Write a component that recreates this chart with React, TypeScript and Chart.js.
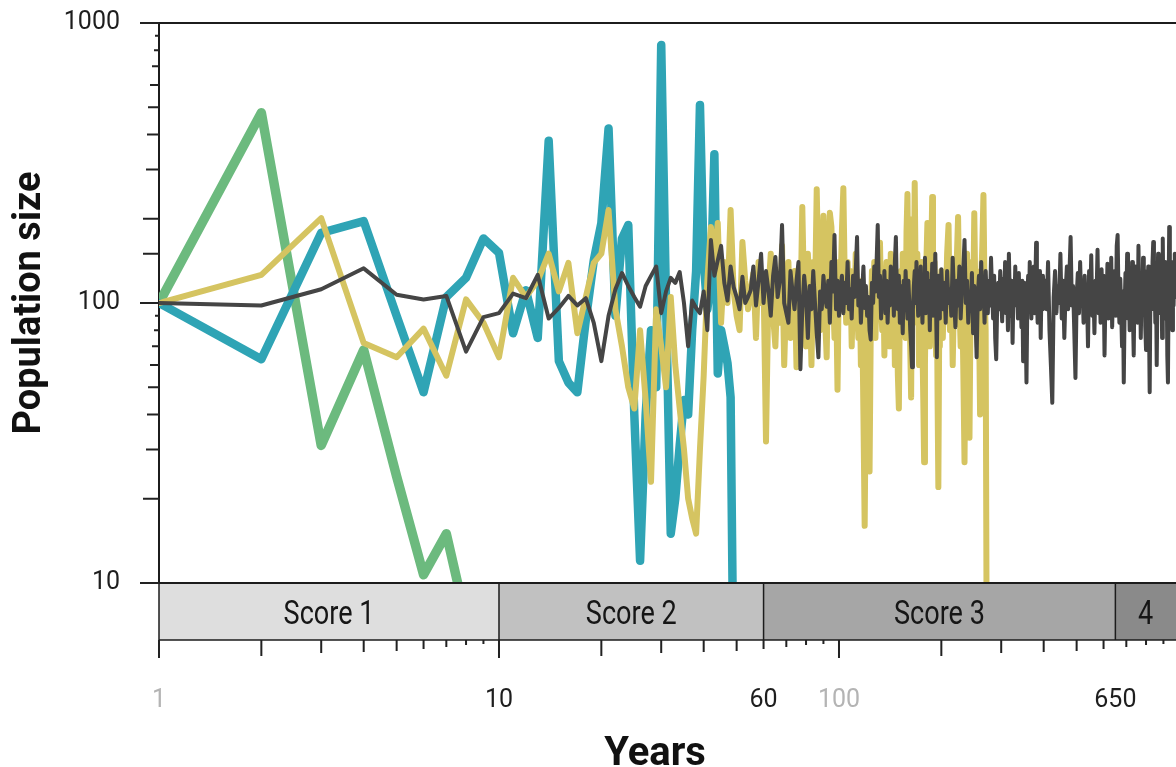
import React, { useEffect, useRef } from 'react';
import { Chart, registerables } from 'chart.js';

Chart.register(...registerables);

const seq = (start: number, end: number, step: number): number[] => {
  const out: number[] = [];
  for (let v = start; v <= end; v += step) out.push(v);
  return out;
};

// ---------- data (years, population size) ----------
const greenYears = seq(1, 8, 1);
const greenValues = [100, 478, 31, 68, 24, 10.7, 15, 7.4];

const blueYears = seq(1, 49, 1);
const blueValues = [
  100, 63, 178, 196, 90, 48, 105, 123, 170, 151,
  78, 111, 75, 380, 62, 52, 48, 87, 142, 193,
  420, 90, 170, 190, 40, 12, 40, 80, 50, 835,
  100, 15, 20, 31, 45, 40, 80, 130, 510, 140,
  95, 120, 340, 56, 80, 70, 61, 46, 4,
];

// yellow: yearly to 200, then every 2 years
const yellowEarly = [
  100, 126, 201, 72, 64, 81, 55, 103, 85, 64,
  123, 105, 120, 150, 110, 139, 78, 105, 139, 150,
  215, 95, 70, 50, 42, 80, 45, 23, 95, 70,
  50, 105, 60, 42, 30, 20, 17, 15, 30, 55,
  120, 187, 140, 193, 85, 140, 100, 215, 110, 90,
  80, 165, 120, 95, 110, 128, 75, 140, 100, 120,
  32, 110, 150, 90, 70, 120, 85, 160, 60, 110,
  140, 75, 100, 130, 59, 120, 90, 220, 100, 70,
  150, 110, 60, 140, 100, 255, 120, 80, 130, 205,
  90, 64, 150, 210, 187, 110, 75, 120, 49, 140,
];
const yellowMid = [
  110, 180, 257, 120, 85, 140, 95, 130, 70, 115,
  90, 150, 100, 75, 120, 60, 95, 40, 16, 55,
  100, 70, 25, 80, 130, 95, 140, 75, 110, 90,
  130, 164, 100, 80, 125, 65, 105, 140, 90, 120,
  70, 150, 100, 85, 130, 60, 110, 90, 55, 42,
  95, 130, 80, 150, 100, 120, 75, 180, 245, 110,
  140, 70, 46, 150, 200, 110, 268, 130, 85, 150,
  100, 60, 120, 90, 140, 70, 45, 27, 60, 110,
  150, 193, 95, 130, 70, 120, 160, 239, 110, 85,
  140, 100, 65, 120, 45, 22, 70, 110, 90, 130,
];
const yellowLate = [
  75, 120, 95, 150, 190, 80, 130, 60, 110, 90,
  140, 203, 100, 70, 125, 60, 27, 100, 150, 80,
  33, 110, 140, 90, 209, 100, 130, 70, 95, 40,
  120, 160, 243, 110, 80, 5,
];
const yellowYears = [...seq(1, 100, 1), ...seq(101, 200, 1), ...seq(202, 272, 2)];
const yellowValues = [...yellowEarly, ...yellowMid, ...yellowLate];

// black: yearly to 200, then every 2 years to 400, then every 4 years
const blackEarly = [
  100, 98, 112, 133, 107, 103, 106, 67, 89, 92,
  108, 104, 126, 88, 96, 106, 98, 104, 85, 62,
  90, 112, 128, 115, 105, 97, 115, 125, 135, 92,
  110, 123, 118, 129, 100, 70, 102, 96, 92, 110,
  80, 168, 125, 142, 160, 118, 102, 135, 114, 105,
  95, 124, 100, 105, 111, 135, 98, 120, 150, 100,
  130, 111, 90, 125, 146, 105, 120, 190, 100, 92,
  85, 130, 110, 95, 120, 140, 58, 95, 125, 105,
  75, 115, 95, 130, 100, 78, 64, 110, 95, 125,
  105, 97, 120, 85, 140, 110, 175, 95, 120, 90,
];
const blackMid = [
  110, 125, 92, 118, 100, 140, 95, 112, 88, 125,
  105, 130, 172, 98, 120, 85, 110, 135, 96, 115,
  90, 105, 80, 74, 118, 100, 135, 110, 140, 190,
  105, 125, 88, 115, 100, 130, 92, 120, 85, 110,
  98, 135, 105, 120, 90, 140, 172, 110, 95, 125,
  85, 115, 100, 78, 120, 95, 130, 105, 88, 120,
  100, 80, 70, 59, 95, 115, 130, 100, 140, 110,
  90, 120, 98, 135, 105, 85, 118, 100, 145, 92,
  112, 128, 95, 110, 80, 120, 100, 138, 90, 115,
  105, 150, 95, 64, 110, 125, 88, 120, 100, 132,
];
const blackLate = [
  95, 118, 85, 130, 100, 112, 90, 145, 105, 82,
  120, 98, 135, 88, 115, 130, 168, 100, 120, 85,
  110, 95, 128, 78, 115, 90, 64, 105, 125, 95,
  140, 100, 118, 85, 130, 105, 92, 120, 98, 145,
  110, 88, 125, 75, 63, 100, 118, 95, 130, 105,
  86, 122, 100, 140, 92, 115, 80, 150, 105, 90,
  120, 72, 110, 98, 135, 100, 118, 88, 128, 95,
  112, 82, 120, 62, 105, 118, 85, 52, 100, 125,
  95, 140, 108, 88, 122, 100, 135, 92, 118, 164,
  105, 85, 120, 98, 130, 75, 110, 95, 125, 100,
];
const blackTail = [
  120, 95, 140, 80, 60, 44, 105, 130, 92, 115,
  100, 150, 88, 120, 75, 110, 135, 95, 125, 172,
  98, 115, 80, 54, 105, 128, 92, 140, 100, 118,
  85, 125, 95, 110, 70, 130, 100, 148, 90, 115,
  78, 120, 105, 155, 92, 118, 85, 132, 100, 125,
  65, 110, 95, 138, 88, 120, 100, 145, 82, 115,
  98, 130, 90, 160, 175, 105, 85, 122, 95, 70,
  110, 52, 95, 128, 100, 150, 88, 118, 80, 125,
  100, 140, 92, 65, 115, 135, 98, 120, 85, 160,
  105, 125, 75, 110, 95, 145, 100, 130, 82, 68,
  115, 98, 135, 88, 48, 110, 125, 95, 140, 165,
  100, 120, 85, 118, 60, 105, 150, 92, 128, 100,
  112, 135, 75, 170, 98, 120, 88, 140, 105, 125,
  65, 52, 110, 187, 100, 130, 92, 118, 80, 140,
  98, 125, 150, 105, 110, 115,
];
const blackYears = [...seq(1, 100, 1), ...seq(101, 200, 1), ...seq(202, 400, 2), ...seq(404, 984, 4)];
const blackValues = [...blackEarly, ...blackMid, ...blackLate, ...blackTail];

// ---------- axes / annotations ----------
const scoreLabels = ['Score 1', 'Score 2', 'Score 3', '4'];
const scoreEdges = [1, 10, 60, 650, 1000];
const bandColors = ['#dedede', '#c1c1c1', '#a6a6a6', '#8a8a8a'];

const xLabelValues = [1, 10, 60, 100, 650];
const xLabelTexts = ['1', '10', '60', '100', '650'];
const xLabelMuted = [true, false, false, true, false];

const yLabelValues = [10, 100, 1000];

const MINOR_LEN: Record<number, number> = { 2: 16, 3: 13, 4: 12, 5: 11, 6: 9, 7: 7, 8: 5, 9: 4 };

const toPoints = (xs: number[], ys: number[]) => xs.map((x, i) => ({ x, y: ys[i] }));

const decorPlugin = {
  id: 'decor',
  afterDatasetsDraw(chart: any) {
    const { ctx, chartArea, scales } = chart;
    const xs = scales.x;
    const ys = scales.y;
    const L = chartArea.left;
    const R = chartArea.right;
    const T = chartArea.top;
    const B = chartArea.bottom;
    const bandTop = B;
    const bandBottom = B + 57;
    ctx.save();

    // score bands
    for (let i = 0; i < scoreLabels.length; i++) {
      const x0 = xs.getPixelForValue(scoreEdges[i]);
      const x1 = Math.min(xs.getPixelForValue(scoreEdges[i + 1]), R);
      ctx.fillStyle = bandColors[i];
      ctx.fillRect(x0, bandTop, x1 - x0, bandBottom - bandTop);
      ctx.save();
      ctx.translate((x0 + x1) / 2, bandTop + 41);
      ctx.scale(0.82, 1);
      ctx.font = '33px Roboto';
      ctx.fillStyle = '#161616';
      ctx.textAlign = 'center';
      ctx.textBaseline = 'alphabetic';
      ctx.fillText(scoreLabels[i], 0, 0);
      ctx.restore();
    }

    // frame lines
    ctx.strokeStyle = '#1c1c1c';
    ctx.lineWidth = 2;
    ctx.beginPath();
    ctx.moveTo(L, T);
    ctx.lineTo(R, T);
    ctx.moveTo(L, bandTop);
    ctx.lineTo(R, bandTop);
    ctx.stroke();
    ctx.lineWidth = 1.5;
    ctx.beginPath();
    ctx.moveTo(L, bandBottom);
    ctx.lineTo(R, bandBottom);
    for (let i = 0; i < scoreLabels.length; i++) {
      const xp = xs.getPixelForValue(scoreEdges[i]);
      ctx.moveTo(xp, bandTop);
      ctx.lineTo(xp, bandBottom);
    }
    ctx.stroke();

    // x ticks + y ticks
    ctx.strokeStyle = '#222';
    ctx.lineWidth = 2;
    ctx.beginPath();
    for (const decade of [1, 10, 100]) {
      for (let d = 1; d <= 9; d++) {
        const v = d * decade;
        if (v > xs.max) continue;
        const xp = xs.getPixelForValue(v);
        const len = d === 1 ? 18 : MINOR_LEN[d];
        ctx.moveTo(xp, bandBottom);
        ctx.lineTo(xp, bandBottom + len);
      }
    }
    for (const t of ys.ticks) {
      const v = t.value;
      const d = Math.round(v / Math.pow(10, Math.floor(Math.log10(v) + 1e-9)));
      const len = yLabelValues.includes(v) ? 19 : MINOR_LEN[d] || 4;
      const yp = ys.getPixelForValue(v);
      ctx.moveTo(L - len, yp);
      ctx.lineTo(L, yp);
    }
    ctx.stroke();

    // x tick labels
    ctx.font = '25px Roboto';
    ctx.textAlign = 'center';
    ctx.textBaseline = 'alphabetic';
    for (let i = 0; i < xLabelValues.length; i++) {
      ctx.fillStyle = xLabelMuted[i] ? '#b4b4b4' : '#1e1e1e';
      ctx.fillText(xLabelTexts[i], xs.getPixelForValue(xLabelValues[i]), bandBottom + 67);
    }

    // x title
    ctx.font = 'bold 40px Roboto';
    ctx.fillStyle = '#111';
    ctx.fillText('Years', 655, 765);
    ctx.restore();
  },
};

export default function App() {
  const ref = useRef<HTMLCanvasElement | null>(null);

  useEffect(() => {
    if (!ref.current) return;
    const chart = new Chart(ref.current, {
      type: 'line',
      data: {
        datasets: [
          {
            label: 'black',
            data: toPoints(blackYears, blackValues),
            borderColor: '#454545',
            borderWidth: 4,
            order: 0,
          },
          {
            label: 'yellow',
            data: toPoints(yellowYears, yellowValues),
            borderColor: '#d5c461',
            borderWidth: 6,
            order: 1,
          },
          {
            label: 'blue',
            data: toPoints(blueYears, blueValues),
            borderColor: '#2fa4b5',
            borderWidth: 8.5,
            order: 2,
          },
          {
            label: 'green',
            data: toPoints(greenYears, greenValues),
            borderColor: '#6cba7e',
            borderWidth: 9.5,
            order: 3,
          },
        ],
      },
      options: {
        responsive: false,
        animation: false,
        devicePixelRatio: 1,
        layout: { padding: { top: 23, right: 0, bottom: 184, left: 0 } },
        plugins: { legend: { display: false }, tooltip: { enabled: false } },
        elements: {
          point: { radius: 0, hoverRadius: 0 },
          line: { tension: 0, borderJoinStyle: 'round', borderCapStyle: 'round', fill: false },
        },
        scales: {
          x: {
            type: 'logarithmic',
            min: 1,
            max: 980,
            display: false,
          },
          y: {
            type: 'logarithmic',
            min: 10,
            max: 1000,
            afterFit: (scale: any) => {
              scale.width = 159;
            },
            border: { display: true, color: '#1c1c1c', width: 2 },
            grid: {
              drawOnChartArea: false,
              drawTicks: true,
              tickLength: 39,
              tickColor: 'rgba(0,0,0,0)',
            },
            ticks: {
              autoSkip: false,
              padding: 0,
              color: '#1e1e1e',
              font: { family: 'Roboto', size: 25 },
              callback: (v: any) => (yLabelValues.includes(Number(v)) ? String(v) : ''),
            },
            title: {
              display: true,
              text: 'Population size',
              color: '#111',
              font: { family: 'Roboto', size: 38, weight: 'bold' },
              padding: { top: 8, bottom: 0 },
            },
          },
        },
      },
      plugins: [decorPlugin],
    } as any);
    return () => chart.destroy();
  }, []);

  return (
    <div style={{ position: 'fixed', left: 0, top: 0, width: 1176, height: 767, background: '#fff' }}>
      <canvas ref={ref} width={1176} height={767} style={{ display: 'block' }} />
    </div>
  );
}
